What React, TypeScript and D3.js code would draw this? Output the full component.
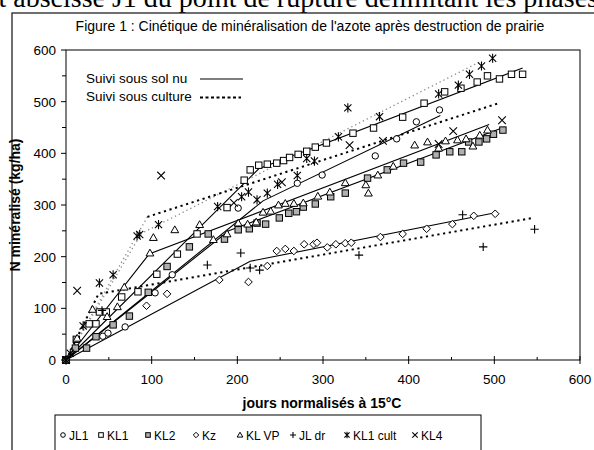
import React from 'react';
import * as d3 from 'd3';

type P = [number, number];

// ---------- data ----------
const xTicks = [0, 100, 200, 300, 400, 500, 600];
const yTicks = [0, 100, 200, 300, 400, 500, 600];
const minorTicks = [50, 150, 250, 350, 450, 550];

const JL1: P[] = [[0,0],[43,46],[49,52],[69,64],[104,130],[124,165],[201,294],[270,342],[299,358],[361,395],[386,428],[409,461],[436,484]];
const KL1: P[] = [[0,0],[27,70],[35,70],[39,93],[47,93],[65,122],[84,132],[106,166],[130,205],[153,244],[188,295],[208,348],[215,368],[225,377],[235,379],[246,381],[254,386],[261,392],[271,398],[281,404],[291,412],[304,420],[335,439],[359,449],[393,470],[418,497],[442,519],[461,526],[480,538],[492,550],[506,544],[520,553],[533,553]];
const KL2: P[] = [[0,0],[11,23],[24,23],[12,40],[35,45],[55,68],[74,85],[96,131],[118,181],[144,219],[166,244],[185,234],[201,252],[214,254],[223,265],[233,263],[249,275],[260,284],[269,287],[277,296],[291,302],[309,316],[326,323],[352,352],[375,368],[394,381],[414,383],[432,397],[448,403],[462,403],[470,422],[482,422],[491,428],[499,437],[510,445]];
const KZ: P[] = [[0,0],[94,105],[118,128],[179,155],[213,151],[235,182],[246,211],[256,215],[266,211],[278,224],[289,224],[293,227],[305,218],[315,224],[326,226],[333,227],[367,238],[393,244],[421,254],[451,263],[476,279],[501,283]];
const KLVP: P[] = [[0,0],[13,42],[31,98],[48,84],[60,103],[68,141],[98,207],[102,237],[127,252],[156,262],[172,233],[188,244],[201,265],[212,263],[222,267],[230,286],[239,288],[248,300],[256,303],[266,303],[277,304],[294,317],[308,325],[326,343],[350,339],[353,323],[364,358],[382,375],[407,416],[422,422],[435,410],[443,424],[457,426],[467,428],[475,414],[483,435],[492,445]];
const JLDR: P[] = [[0,0],[42,96],[165,184],[204,207],[215,178],[226,174],[342,203],[463,281],[487,219],[547,253]];
const KL1CULT: P[] = [[0,0],[5,13],[20,66],[39,149],[55,165],[83,240],[86,243],[108,262],[177,297],[205,316],[213,325],[223,310],[235,323],[247,340],[270,357],[281,390],[290,385],[318,432],[329,488],[366,471],[435,515],[458,532],[471,553],[485,569],[498,584]];
const KL4: P[] = [[0,0],[13,134],[111,357],[196,304],[252,344],[331,416],[370,424],[435,418],[452,443],[509,464]];

// fitted broken lines
const solidLines: P[][] = [
  [[0,0],[225,370],[533,565]],   // KL1
  [[0,0],[230,308],[437,473]],   // JL1
  [[0,0],[190,250],[512,451]],   // KL2
  [[0,0],[215,191],[501,285]],   // Kz
  [[0,0],[97,205],[494,456]],    // KL VP
];
const grayDotLines: P[][] = [
  [[0,0],[88,245],[483,577]],    // KL1 cult
  [[0,0],[95,277]],              // KL4 first phase
];
const blackDashLines: P[][] = [
  [[95,277],[505,497]],          // KL4
  [[0,0],[38,128],[545,275]],    // JL dr
];

const seriesNames = ['JL1', 'KL1', 'KL2', 'Kz', 'KL VP', 'JL dr', 'KL1 cult', 'KL4'];
const seriesData: P[][] = [JL1, KL1, KL2, KZ, KLVP, JLDR, KL1CULT, KL4];
const seriesMarkers = ['circle', 'square', 'graySquare', 'diamond', 'triangle', 'plus', 'star', 'x'];

const titleText = "Figure 1 : Cinétique de minéralisation de l'azote après destruction de prairie";
const topText = 'et abscisse J1 du point de rupture délimitant les phases';

// ---------- drawing ----------
const x = d3.scaleLinear().domain([0, 600]).range([66, 580]);
const y = d3.scaleLinear().domain([0, 600]).range([360, 50]);
const line = d3.line<P>().x(d => x(d[0])).y(d => y(d[1]));

const FONT = "'Liberation Sans', Arial, Helvetica, sans-serif";

function Marker({ kind, cx, cy, k = 1 }: { kind: string; cx: number; cy: number; k?: number }) {
  const t = `translate(${cx},${cy}) scale(${k})`;
  const sw = 1 / k;
  switch (kind) {
    case 'circle':
      return <circle transform={t} r={3.2} fill="#fff" stroke="#000" strokeWidth={sw} />;
    case 'square':
      return <rect transform={t} x={-3.2} y={-3.2} width={6.4} height={6.4} fill="#fff" stroke="#000" strokeWidth={sw} />;
    case 'graySquare':
      return <rect transform={t} x={-3.2} y={-3.2} width={6.4} height={6.4} fill="#b0b0b0" stroke="#000" strokeWidth={sw} />;
    case 'diamond':
      return <path transform={t} d="M0,-3.8L3.8,0L0,3.8L-3.8,0Z" fill="#fff" stroke="#000" strokeWidth={sw} />;
    case 'triangle':
      return <path transform={t} d="M0,-3.9L3.9,2.9L-3.9,2.9Z" fill="#fff" stroke="#000" strokeWidth={sw} />;
    case 'plus':
      return <path transform={t} d="M-4.2,0H4.2M0,-4.2V4.2" fill="none" stroke="#000" strokeWidth={1.1 * sw} />;
    case 'star':
      return <path transform={t} d="M-3.6,-3.6L3.6,3.6M-3.6,3.6L3.6,-3.6M0,-4.6V4.6" fill="none" stroke="#000" strokeWidth={1.1 * sw} />;
    case 'x':
      return <path transform={t} d="M-3.8,-3.8L3.8,3.8M-3.8,3.8L3.8,-3.8" fill="none" stroke="#000" strokeWidth={1.1 * sw} />;
    default:
      return null;
  }
}

const legendMarkerX = [63, 101, 148, 196, 240, 293, 347, 415];

export default function App() {
  return (
    <svg width={594} height={450} style={{ position: 'absolute', left: 0, top: 0, display: 'block', background: '#fff' }}
      fontFamily={FONT}>
      <rect x={0} y={0} width={594} height={450} fill="#fff" />
      {/* page text cut at the top */}
      <text x={-14} y={7} fontFamily="'Liberation Serif', 'Times New Roman', serif" fontSize={28} fill="#000">{topText}</text>

      {/* outer chart frame */}
      <rect x={12} y={13} width={700} height={600} fill="none" stroke="#222" strokeWidth={1.3} />

      {/* title */}
      <text x={310} y={31} textAnchor="middle" fontSize={14}>{titleText}</text>

      {/* plot border */}
      <rect x={66} y={50} width={514} height={310} fill="none" stroke="#000" strokeWidth={1} />

      {/* y ticks */}
      {yTicks.map(v => (
        <g key={'y' + v}>
          <line x1={61} x2={66} y1={y(v)} y2={y(v)} stroke="#000" />
          <text x={56} y={y(v)} dy="0.36em" textAnchor="end" fontSize={13.5}>{v}</text>
        </g>
      ))}
      {minorTicks.map(v => (
        <line key={'ym' + v} x1={62} x2={66} y1={y(v)} y2={y(v)} stroke="#000" />
      ))}
      {/* x ticks */}
      {xTicks.map(v => (
        <g key={'x' + v}>
          <line x1={x(v)} x2={x(v)} y1={356} y2={364} stroke="#000" />
          <text x={x(v)} y={384} textAnchor="middle" fontSize={13.5}>{v}</text>
        </g>
      ))}
      {minorTicks.map(v => (
        <line key={'xm' + v} x1={x(v)} x2={x(v)} y1={357} y2={360} stroke="#000" />
      ))}

      {/* axis titles */}
      <text transform="translate(20,205) rotate(-90)" textAnchor="middle" fontSize={14} fontWeight="bold">N minéralisé (kg/ha)</text>
      <text x={322} y={408} textAnchor="middle" fontSize={14} fontWeight="bold">jours normalisés à 15°C</text>

      {/* fitted lines */}
      {solidLines.map((l, i) => (
        <path key={'s' + i} d={line(l) || ''} fill="none" stroke="#000" strokeWidth={1.1} />
      ))}
      {grayDotLines.map((l, i) => (
        <path key={'g' + i} d={line(l) || ''} fill="none" stroke="#8a8a8a" strokeWidth={1.3} strokeDasharray="1.3,3" />
      ))}
      {blackDashLines.map((l, i) => (
        <path key={'b' + i} d={line(l) || ''} fill="none" stroke="#000" strokeWidth={2} strokeDasharray="2.2,3.6" />
      ))}

      {/* markers */}
      {seriesData.map((data, si) => (
        <g key={'m' + si}>
          {data.map((d, j) => (
            <Marker key={j} kind={seriesMarkers[si]} cx={x(d[0])} cy={y(d[1])} />
          ))}
        </g>
      ))}

      {/* inner legend */}
      <text x={86} y={83} fontSize={13.5}>Suivi sous sol nu</text>
      <line x1={200} x2={243} y1={79} y2={79} stroke="#000" strokeWidth={1.1} />
      <text x={86} y={101} fontSize={13.5}>Suivi sous culture</text>
      <line x1={200} x2={241} y1={97.5} y2={97.5} stroke="#000" strokeWidth={2} strokeDasharray="3,2.5" />

      {/* bottom legend */}
      <rect x={55} y={415} width={426} height={60} fill="#fff" stroke="#000" strokeWidth={1} />
      {seriesNames.map((n, i) => (
        <g key={'l' + i}>
          <Marker kind={seriesMarkers[i]} cx={legendMarkerX[i]} cy={435} k={0.72} />
          <text x={legendMarkerX[i] + 6} y={439.5} fontSize={12}>{n}</text>
        </g>
      ))}
    </svg>
  );
}
